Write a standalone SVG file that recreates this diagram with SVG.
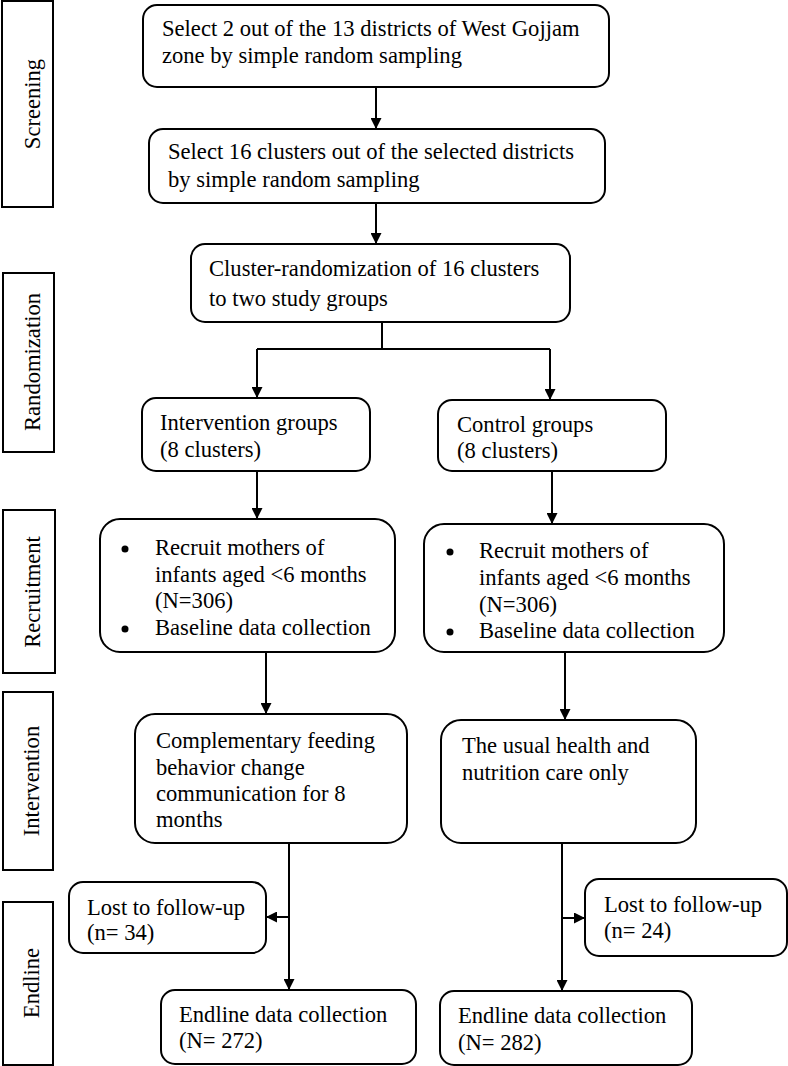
<svg xmlns="http://www.w3.org/2000/svg" width="788" height="1066" viewBox="0 0 788 1066">
<style>
.box{fill:#fff;stroke:#000;stroke-width:2}
.side{fill:#fff;stroke:#000;stroke-width:2}
.t{font-family:"Liberation Serif","Times New Roman",serif;font-size:22.6px;fill:#000}
.s{font-family:"Liberation Serif","Times New Roman",serif;font-size:22.6px;fill:#000;text-anchor:middle}
.c{fill:none;stroke:#000;stroke-width:2}
</style>
<defs>
<marker id="ah" viewBox="0 0 10 10" refX="10" refY="5" markerWidth="11" markerHeight="11" markerUnits="userSpaceOnUse" orient="auto">
<path d="M0,0 L10,5 L0,10 z" fill="#000"/>
</marker>
</defs>
<rect width="788" height="1066" fill="#fff"/>

<g id="side-screening"><rect class="side" x="2" y="1" width="51" height="206"/><text class="s" transform="translate(40,104) rotate(-90)">Screening</text></g>
<g id="side-randomization"><rect class="side" x="3" y="273" width="51" height="179"/><text class="s" transform="translate(40,362) rotate(-90)">Randomization</text></g>
<g id="side-recruitment"><rect class="side" x="3" y="510" width="52" height="163"/><text class="s" transform="translate(40,592) rotate(-90)">Recruitment</text></g>
<g id="side-intervention"><rect class="side" x="3" y="692" width="50" height="178"/><text class="s" transform="translate(39,781) rotate(-90)">Intervention</text></g>
<g id="side-endline"><rect class="side" x="3" y="902" width="50" height="163"/><text class="s" transform="translate(39,983) rotate(-90)">Endline</text></g>

<g id="connectors">
<line class="c" x1="376" y1="87" x2="376" y2="129" marker-end="url(#ah)"/>
<line class="c" x1="376" y1="203" x2="376" y2="244" marker-end="url(#ah)"/>
<polyline class="c" points="382,322 382,349"/>
<polyline class="c" points="257,349 550,349"/>
<line class="c" x1="257" y1="349" x2="257" y2="398" marker-end="url(#ah)"/>
<line class="c" x1="550" y1="349" x2="550" y2="400" marker-end="url(#ah)"/>
<line class="c" x1="257" y1="471" x2="257" y2="519" marker-end="url(#ah)"/>
<line class="c" x1="552" y1="471" x2="552" y2="524" marker-end="url(#ah)"/>
<line class="c" x1="266" y1="652" x2="266" y2="714" marker-end="url(#ah)"/>
<line class="c" x1="565" y1="652" x2="565" y2="720" marker-end="url(#ah)"/>
<line class="c" x1="289" y1="843" x2="289" y2="990" marker-end="url(#ah)"/>
<line class="c" x1="289" y1="917" x2="266" y2="917" marker-end="url(#ah)"/>
<line class="c" x1="562" y1="843" x2="562" y2="991" marker-end="url(#ah)"/>
<line class="c" x1="562" y1="918" x2="585" y2="918" marker-end="url(#ah)"/>
</g>

<g id="n1"><rect class="box" x="143" y="5" width="466" height="82" rx="14"/>
<text class="t" x="162" y="36">Select 2 out of the 13 districts of West Gojjam</text>
<text class="t" x="162" y="63">zone by simple random sampling</text></g>

<g id="n2"><rect class="box" x="149" y="129" width="456" height="74" rx="14"/>
<text class="t" x="168" y="159">Select 16 clusters out of the selected districts</text>
<text class="t" x="168" y="187">by simple random sampling</text></g>

<g id="n3"><rect class="box" x="191" y="244" width="379" height="78" rx="14"/>
<text class="t" x="209" y="276">Cluster-randomization of 16 clusters</text>
<text class="t" x="209" y="306">to two study groups</text></g>

<g id="n4"><rect class="box" x="142" y="398" width="228" height="73" rx="14"/>
<text class="t" x="160" y="430">Intervention groups</text>
<text class="t" x="160" y="457">(8 clusters)</text></g>

<g id="n5"><rect class="box" x="438" y="400" width="228" height="71" rx="14"/>
<text class="t" x="457" y="432">Control groups</text>
<text class="t" x="457" y="458">(8 clusters)</text></g>

<g id="n6"><rect class="box" x="100" y="519" width="295" height="133" rx="20"/>
<circle cx="125" cy="549" r="3.5"/>
<text class="t" x="155" y="555">Recruit mothers of</text>
<text class="t" x="155" y="582">infants aged &lt;6 months</text>
<text class="t" x="155" y="608">(N=306)</text>
<circle cx="125" cy="629" r="3.5"/>
<text class="t" x="155" y="635">Baseline data collection</text></g>

<g id="n7"><rect class="box" x="424" y="524" width="300" height="128" rx="20"/>
<circle cx="450" cy="552" r="3.5"/>
<text class="t" x="479" y="558">Recruit mothers of</text>
<text class="t" x="479" y="585">infants aged &lt;6 months</text>
<text class="t" x="479" y="612">(N=306)</text>
<circle cx="450" cy="632" r="3.5"/>
<text class="t" x="479" y="638">Baseline data collection</text></g>

<g id="n8"><rect class="box" x="135" y="714" width="272" height="129" rx="20"/>
<text class="t" x="156" y="748">Complementary feeding</text>
<text class="t" x="156" y="775">behavior change</text>
<text class="t" x="156" y="801">communication for 8</text>
<text class="t" x="156" y="827">months</text></g>

<g id="n9"><rect class="box" x="441" y="720" width="255" height="123" rx="20"/>
<text class="t" x="462" y="753">The usual health and</text>
<text class="t" x="462" y="780">nutrition care only</text></g>

<g id="n10"><rect class="box" x="69" y="882" width="197" height="71" rx="14"/>
<text class="t" x="87" y="915">Lost to follow-up</text>
<text class="t" x="87" y="940">(n= 34)</text></g>

<g id="n11"><rect class="box" x="585" y="879" width="202" height="77" rx="14"/>
<text class="t" x="604" y="912">Lost to follow-up</text>
<text class="t" x="604" y="938">(n= 24)</text></g>

<g id="n12"><rect class="box" x="161" y="990" width="255" height="74" rx="14"/>
<text class="t" x="179" y="1022">Endline data collection</text>
<text class="t" x="179" y="1048">(N= 272)</text></g>

<g id="n13"><rect class="box" x="440" y="991" width="252" height="74" rx="14"/>
<text class="t" x="458" y="1023">Endline data collection</text>
<text class="t" x="458" y="1050">(N= 282)</text></g>
</svg>
